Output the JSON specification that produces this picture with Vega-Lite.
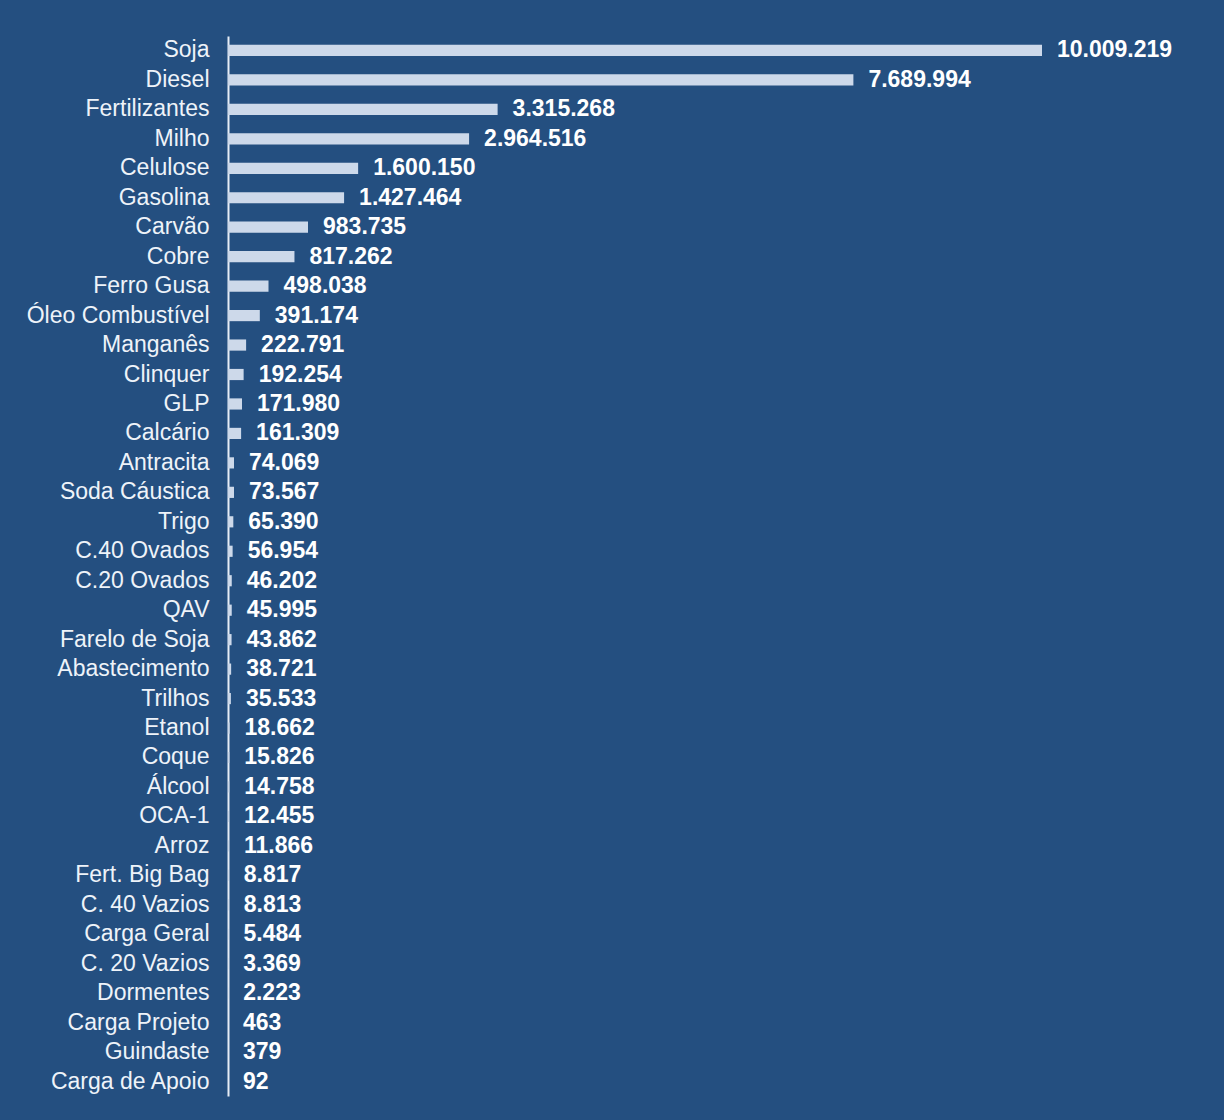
{
  "$schema": "https://vega.github.io/schema/vega-lite/v6.json",
  "autosize": {"type": "none"},
  "width": 814,
  "height": 1060,
  "padding": {"left": 228, "top": 36, "right": 182, "bottom": 24},
  "background": "#244f80",
  "config": {
    "view": {"stroke": null},
    "locale": {"number": {"decimal": ",", "thousands": ".", "grouping": [3], "currency": ["R$", ""]}}
  },
  "data": {"values": [
    {"produto": "Soja", "valor": 10009219},
    {"produto": "Diesel", "valor": 7689994},
    {"produto": "Fertilizantes", "valor": 3315268},
    {"produto": "Milho", "valor": 2964516},
    {"produto": "Celulose", "valor": 1600150},
    {"produto": "Gasolina", "valor": 1427464},
    {"produto": "Carvão", "valor": 983735},
    {"produto": "Cobre", "valor": 817262},
    {"produto": "Ferro Gusa", "valor": 498038},
    {"produto": "Óleo Combustível", "valor": 391174},
    {"produto": "Manganês", "valor": 222791},
    {"produto": "Clinquer", "valor": 192254},
    {"produto": "GLP", "valor": 171980},
    {"produto": "Calcário", "valor": 161309},
    {"produto": "Antracita", "valor": 74069},
    {"produto": "Soda Cáustica", "valor": 73567},
    {"produto": "Trigo", "valor": 65390},
    {"produto": "C.40 Ovados", "valor": 56954},
    {"produto": "C.20 Ovados", "valor": 46202},
    {"produto": "QAV", "valor": 45995},
    {"produto": "Farelo de Soja", "valor": 43862},
    {"produto": "Abastecimento", "valor": 38721},
    {"produto": "Trilhos", "valor": 35533},
    {"produto": "Etanol", "valor": 18662},
    {"produto": "Coque", "valor": 15826},
    {"produto": "Álcool", "valor": 14758},
    {"produto": "OCA-1", "valor": 12455},
    {"produto": "Arroz", "valor": 11866},
    {"produto": "Fert. Big Bag", "valor": 8817},
    {"produto": "C. 40 Vazios", "valor": 8813},
    {"produto": "Carga Geral", "valor": 5484},
    {"produto": "C. 20 Vazios", "valor": 3369},
    {"produto": "Dormentes", "valor": 2223},
    {"produto": "Carga Projeto", "valor": 463},
    {"produto": "Guindaste", "valor": 379},
    {"produto": "Carga de Apoio", "valor": 92}
  ]},
  "encoding": {
    "y": {
      "field": "produto", "type": "nominal", "sort": null,
      "scale": {"paddingInner": 0.62, "paddingOuter": 0.3},
      "axis": {
        "title": null, "ticks": false, "domain": true, "domainColor": "#e6edf6", "domainWidth": 2,
        "labelColor": "#eef3f9", "labelFont": "Liberation Sans", "labelFontSize": 23,
        "labelPadding": 19, "grid": false, "labelLimit": 400
      }
    },
    "x": {
      "field": "valor", "type": "quantitative",
      "scale": {"domain": [0, 10009219], "nice": false},
      "axis": null
    }
  },
  "layer": [
    {"mark": {"type": "bar", "color": "#cdd9ea"}},
    {
      "mark": {"type": "text", "align": "left", "baseline": "middle", "dx": 15, "font": "Liberation Sans", "fontSize": 23, "fontWeight": "bold", "color": "#ffffff"},
      "encoding": {"text": {"field": "valor", "type": "quantitative", "format": ",d"}}
    }
  ]
}
